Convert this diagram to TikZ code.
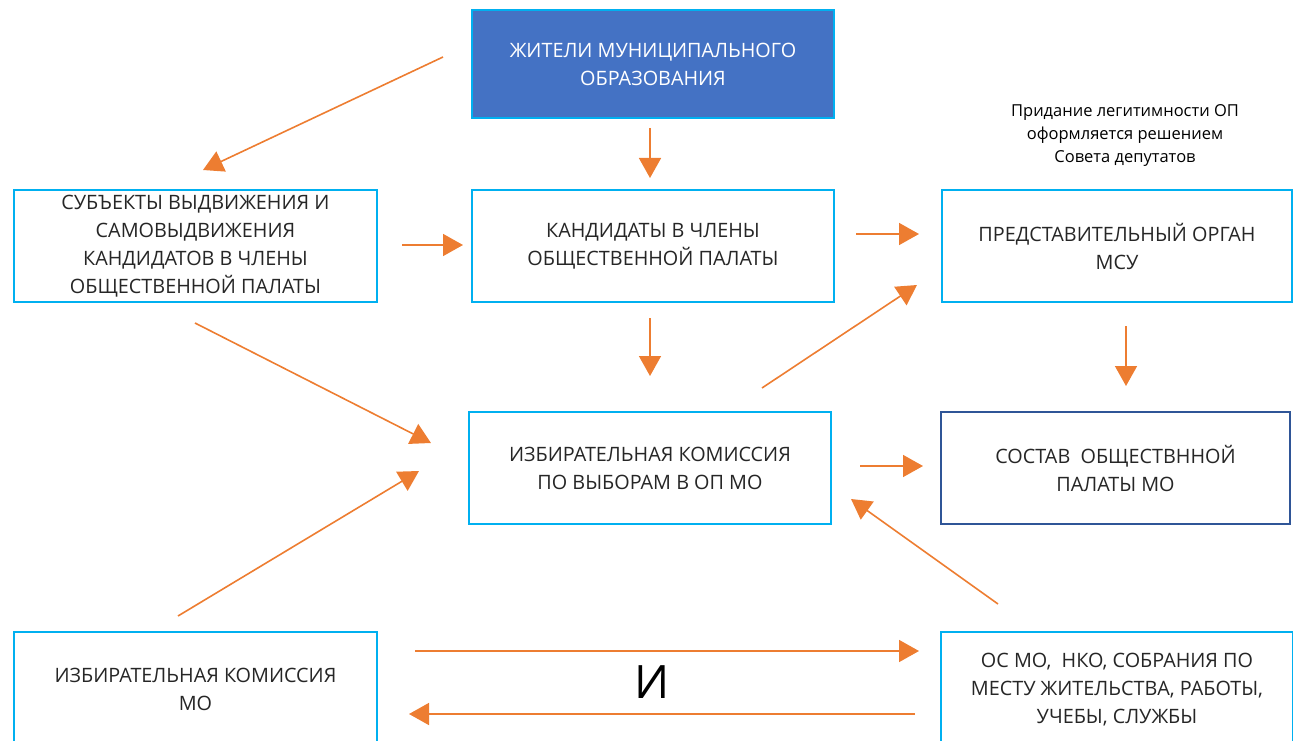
\documentclass[tikz,border=0pt]{standalone}
\usepackage{fontspec}
\setmainfont{Open Sans}
\usetikzlibrary{arrows.meta}
\definecolor{boxblue}{HTML}{00B0F0}
\definecolor{fillblue}{HTML}{4472C4}
\definecolor{darkblue}{HTML}{2F5597}
\definecolor{arr}{HTML}{ED7D31}
\definecolor{txt}{HTML}{262626}
\tikzset{
  box/.style={draw=boxblue, line width=2.5pt, fill=white, align=center, text=txt,
    font=\fontsize{19.8}{28}\selectfont, inner sep=0pt},
  conn/.style={draw=arr, line width=1.6pt, -{Triangle[length=20pt,width=22pt]}},
}
\begin{document}
\begin{tikzpicture}[x=1pt,y=-1pt]
\useasboundingbox (0,0) rectangle (1293,741);
\clip (0,0) rectangle (1293,741);
% boxes
\node[box, fill=fillblue, text=white, minimum width=362pt, minimum height=108pt] (zhit) at (653,64) {ЖИТЕЛИ МУНИЦИПАЛЬНОГО\\ОБРАЗОВАНИЯ};
\node[box, minimum width=363pt, minimum height=112pt] (subj) at (195.5,246) {СУБЪЕКТЫ ВЫДВИЖЕНИЯ И\\САМОВЫДВИЖЕНИЯ\\КАНДИДАТОВ В ЧЛЕНЫ\\ОБЩЕСТВЕННОЙ ПАЛАТЫ};
\node[box, minimum width=362pt, minimum height=112pt] (kand) at (653,246) {КАНДИДАТЫ В ЧЛЕНЫ\\ОБЩЕСТВЕННОЙ ПАЛАТЫ};
\node[box, minimum width=350pt, minimum height=112pt] (pred) at (1117,246) {ПРЕДСТАВИТЕЛЬНЫЙ ОРГАН\\МСУ};
\node[box, minimum width=362pt, minimum height=112pt] (izb) at (650,468) {ИЗБИРАТЕЛЬНАЯ КОМИССИЯ\\ПО ВЫБОРАМ В ОП МО};
\node[box, draw=darkblue, minimum width=349pt, minimum height=112pt] (sost) at (1115.5,468) {СОСТАВ~~ОБЩЕСТВННОЙ\\ПАЛАТЫ МО};
\node[box, minimum width=363pt, minimum height=114pt] (izbmo) at (195.5,689) {ИЗБИРАТЕЛЬНАЯ КОМИССИЯ\\МО};
\node[box, minimum width=352pt, minimum height=116pt] (os) at (1117,690) {ОС МО,~~НКО, СОБРАНИЯ ПО\\МЕСТУ ЖИТЕЛЬСТВА, РАБОТЫ,\\УЧЕБЫ, СЛУЖБЫ};
% label
\node[align=center, font=\fontsize{16.5}{23}\selectfont, text=black] (lbl) at (1125,135) {Придание легитимности ОП\\оформляется решением\\Совета депутатов};
\node[font=\fontsize{46}{46}\selectfont, text=black] (i) at (652,682) {И};
% arrow ends
\coordinate (a1s) at (443,57);   \coordinate (a1e) at (203,170);
\coordinate (a2s) at (650,128);  \coordinate (a2e) at (650,178);
\coordinate (a3s) at (402,245);  \coordinate (a3e) at (463,245);
\coordinate (a4s) at (856,234);  \coordinate (a4e) at (919,234);
\coordinate (a5s) at (650,318);  \coordinate (a5e) at (650,376);
\coordinate (a6s) at (762,388);  \coordinate (a6e) at (917,285);
\coordinate (a7s) at (195,323);  \coordinate (a7e) at (431,443);
\coordinate (a8s) at (1126,326); \coordinate (a8e) at (1126,386);
\coordinate (a9s) at (860,466);  \coordinate (a9e) at (923,466);
\coordinate (a10s) at (178,616); \coordinate (a10e) at (419,471);
\coordinate (a11s) at (998,604); \coordinate (a11e) at (851,499);
\coordinate (a12s) at (415,651); \coordinate (a12e) at (919,651);
\coordinate (a13s) at (915,714); \coordinate (a13e) at (409,714);
\foreach \k in {1,...,13} {\draw[conn] (a\k s) -- (a\k e);}
\end{tikzpicture}
\end{document}
